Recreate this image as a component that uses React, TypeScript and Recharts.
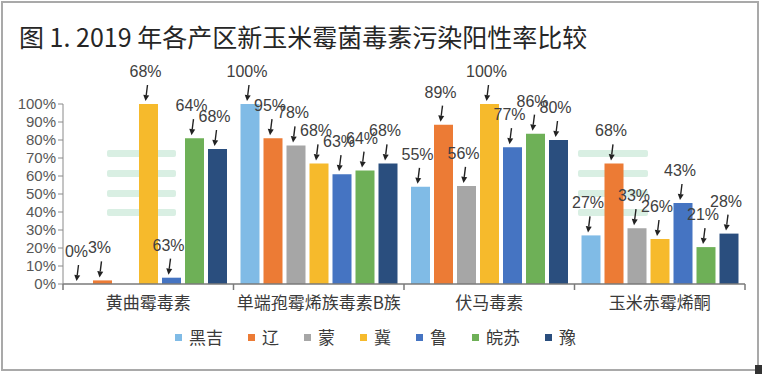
import React from 'react';
import { BarChart, Bar, XAxis, YAxis, LabelList } from 'recharts';

const categories = ['黄曲霉毒素', '单端孢霉烯族毒素B族', '伏马毒素', '玉米赤霉烯酮'];
const regions = ['黑吉', '辽', '蒙', '冀', '鲁', '皖苏', '豫'];
const colors = ['#80bbe6', '#ec7b35', '#a6a6a6', '#f6ba2c', '#4574c2', '#6eb057', '#2a4e7e'];

const heijiValues = [0, 100, 54, 27];
const liaoValues = [2, 81, 88.5, 67];
const mengValues = [0, 77, 54.5, 31];
const jiValues = [100, 67, 100, 25];
const luValues = [3.5, 61, 76, 45];
const wansuValues = [81, 63, 83.5, 20.5];
const yuValues = [75, 67, 80, 28];

const heijiLabels = ['0%', '100%', '55%', '27%'];
const liaoLabels = ['3%', '95%', '89%', '68%'];
const mengLabels = [null, '78%', '56%', '33%'];
const jiLabels = ['68%', '68%', '100%', '26%'];
const luLabels = ['63%', '63%', '77%', '43%'];
const wansuLabels = ['64%', '64%', '86%', '21%'];
const yuLabels = ['68%', '68%', '80%', '28%'];

const yTicks = [0, 10, 20, 30, 40, 50, 60, 70, 80, 90, 100];

const seriesValues = [heijiValues, liaoValues, mengValues, jiValues, luValues, wansuValues, yuValues];
const seriesLabels = [heijiLabels, liaoLabels, mengLabels, jiLabels, luLabels, wansuLabels, yuLabels];

const data = categories.map((cat, i) => {
  const row: any = { cat };
  seriesValues.forEach((vals, s) => {
    row['v' + s] = vals[i];
    row['l' + s] = seriesLabels[s][i];
  });
  return row;
});

const CHART_W = 762;
const CHART_H = 374;
const MARGIN = { top: 104, right: 17, bottom: 60, left: 0 };
const Y_W = 63;
const BAND = (CHART_W - MARGIN.left - MARGIN.right - Y_W) / categories.length;

const FONT_NUM = '"Liberation Sans", Arial, "Noto Sans CJK SC", sans-serif';
const FONT_CJK = '"Noto Sans CJK SC", "Liberation Sans", sans-serif';

const CatTick = (props: any) => {
  const { x, y, payload, index } = props;
  const half = BAND / 2;
  return (
    <g>
      <line x1={x - half} x2={x - half} y1={y} y2={y + 6} stroke="#7a7a7a" strokeWidth={1.5} />
      {index === categories.length - 1 && (
        <line x1={x + half} x2={x + half} y1={y} y2={y + 6} stroke="#7a7a7a" strokeWidth={1.5} />
      )}
      <text
        x={x}
        y={y + 17}
        textAnchor="middle"
        dominantBaseline="central"
        fill="#3a3a3a"
        fontSize={17}
        fontFamily={FONT_CJK}
      >
        {payload.value}
      </text>
    </g>
  );
};

const ArrowLabel = (props: any) => {
  const { x, y, width, value } = props;
  if (value === null || value === undefined || value === '') return null;
  const cx = Number(x) + Number(width) / 2;
  const top = Number(y);
  const tx = cx - 3;
  const ax1 = cx - 1;
  const ay1 = top - 19;
  const ax2 = cx - 3;
  const ay2 = top - 3;
  const ang = Math.atan2(ay2 - ay1, ax2 - ax1);
  const hl = 6;
  const hw = 3;
  const bx = ax2 - hl * Math.cos(ang);
  const by = ay2 - hl * Math.sin(ang);
  const px = -Math.sin(ang) * hw;
  const py = Math.cos(ang) * hw;
  return (
    <g>
      <text
        x={tx}
        y={top - 27}
        textAnchor="middle"
        fill="#404040"
        fontSize={16}
        fontFamily={FONT_NUM}
      >
        {value}
      </text>
      <line x1={ax1} y1={ay1} x2={bx} y2={by} stroke="#222" strokeWidth={1.4} />
      <polygon points={`${ax2},${ay2} ${bx + px},${by + py} ${bx - px},${by - py}`} fill="#222" />
    </g>
  );
};

const stripeRows = [150, 170, 190, 209];
const stripeGroups = [
  { left: 107, width: 69 },
  { left: 578, width: 70 },
];

export default function App() {
  return (
    <div
      style={{
        position: 'absolute',
        left: 0,
        top: 0,
        width: CHART_W,
        height: CHART_H,
        background: '#ffffff',
        overflow: 'hidden',
      }}
    >
      <div
        style={{
          position: 'absolute',
          left: 1,
          top: 1,
          width: 754,
          height: 366,
          border: '2px solid #a9a9a9',
        }}
      />
      <div
        style={{
          position: 'absolute',
          left: 755,
          top: 365,
          width: 7,
          height: 9,
          background: '#333',
        }}
      />
      {stripeGroups.map((g, gi) =>
        stripeRows.map((t, ri) => (
          <div
            key={gi + '-' + ri}
            style={{
              position: 'absolute',
              left: g.left,
              top: t,
              width: g.width,
              height: 7,
              background: '#d9efe3',
              borderRadius: 2,
            }}
          />
        ))
      )}
      <div
        style={{
          position: 'absolute',
          left: 19,
          top: 21,
          fontSize: 25,
          lineHeight: '30px',
          fontFamily: FONT_CJK,
          color: '#262626',
          whiteSpace: 'nowrap',
        }}
      >
        图 1. 2019 年各产区新玉米霉菌毒素污染阳性率比较
      </div>
      <div style={{ position: 'absolute', left: 0, top: 0 }}>
        <BarChart
          width={CHART_W}
          height={CHART_H}
          data={data}
          margin={MARGIN}
          barSize={19}
          barGap={4}
        >
          <XAxis
            dataKey="cat"
            height={30}
            tickSize={0}
            tickMargin={0}
            axisLine={{ stroke: '#7a7a7a', strokeWidth: 1.5 }}
            tick={<CatTick />}
            interval={0}
          />
          <YAxis
            width={Y_W}
            domain={[0, 100]}
            ticks={yTicks}
            interval={0}
            tickFormatter={(v: number) => v + '%'}
            tickSize={5}
            tickMargin={2}
            axisLine={{ stroke: '#8a8a8a' }}
            tickLine={{ stroke: '#8a8a8a' }}
            tick={{ fill: '#575757', fontSize: 15, fontFamily: FONT_NUM }}
          />
          {regions.map((r, s) => (
            <Bar
              key={r}
              dataKey={'v' + s}
              name={r}
              fill={colors[s]}
              minPointSize={0.01}
              isAnimationActive={false}
            >
              <LabelList dataKey={'l' + s} content={<ArrowLabel />} />
            </Bar>
          ))}
        </BarChart>
      </div>
      <div
        style={{
          position: 'absolute',
          left: 175,
          top: 325,
          height: 24,
          display: 'flex',
          alignItems: 'center',
          fontFamily: FONT_CJK,
          fontSize: 17,
          color: '#3a3a3a',
        }}
      >
        {regions.map((r, s) => (
          <div key={r} style={{ display: 'flex', alignItems: 'center', marginRight: 25 }}>
            <div style={{ width: 7, height: 7, background: colors[s], marginRight: 7 }} />
            <span style={{ lineHeight: '24px' }}>{r}</span>
          </div>
        ))}
      </div>
    </div>
  );
}
